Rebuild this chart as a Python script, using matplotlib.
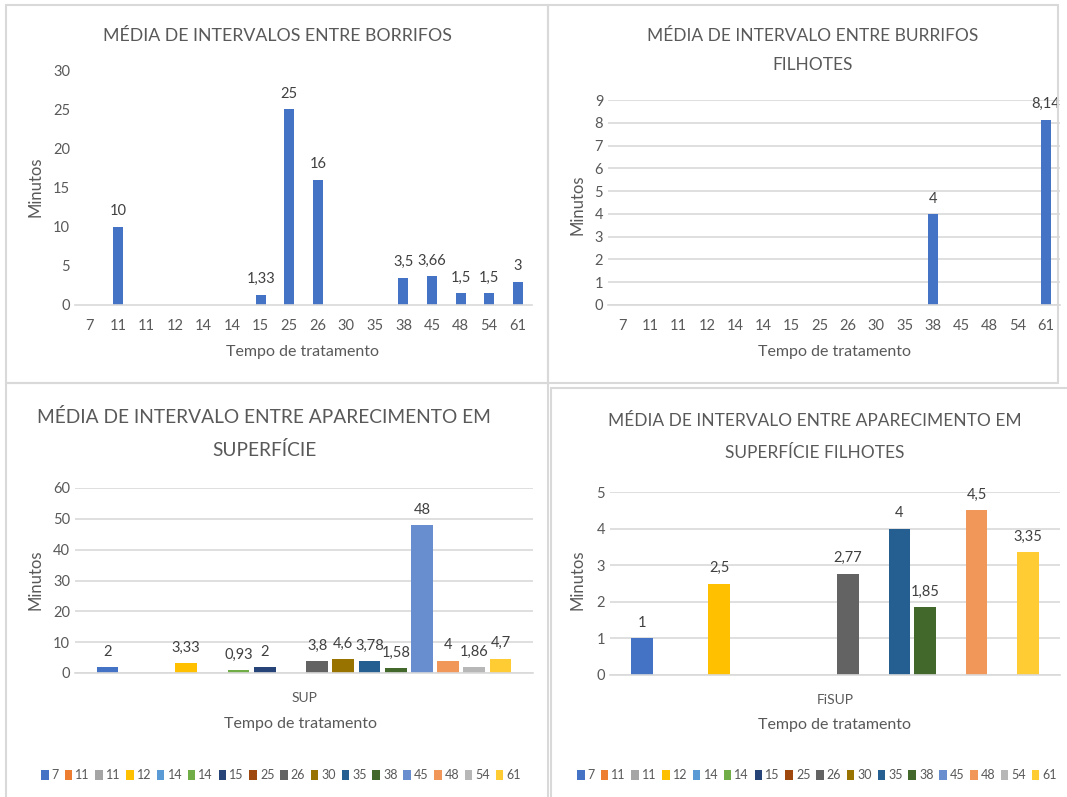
import matplotlib
matplotlib.use("Agg")
import matplotlib.pyplot as plt
import matplotlib.patches as mpatches

W, H = 1067, 797

# --- data ---
tempos = ["7", "11", "11", "12", "14", "14", "15", "25", "26", "30", "35", "38", "45", "48", "54", "61"]
borrifos = [0, 10, 0, 0, 0, 0, 1.33, 25, 16, 0, 0, 3.5, 3.66, 1.5, 1.5, 3]
borrifos_filhotes = [0, 0, 0, 0, 0, 0, 0, 0, 0, 0, 0, 4, 0, 0, 0, 8.14]
superficie = [2, 0, 0, 3.33, 0, 0.93, 2, 0, 3.8, 4.6, 3.78, 1.58, 48, 4, 1.86, 4.7]
superficie_filhotes = [1, 0, 0, 2.5, 0, 0, 0, 0, 2.77, 0, 4, 1.85, 0, 4.5, 0, 3.35]
serie_cores = ["#4472C4", "#ED7D31", "#A5A5A5", "#FFC000", "#5B9BD5", "#70AD47",
               "#264478", "#9E480E", "#636363", "#997300", "#255E91", "#43682B",
               "#698ED0", "#F1975A", "#B7B7B7", "#FFCD33"]

plt.rcParams["font.family"] = ["Lato", "DejaVu Sans"]
TXT = "#595959"
GRID = "#D9D9D9"


def fmt(v):
    return f"{v:g}".replace(".", ",")


def px_axes(fig, x0, y0, x1, y1):
    return fig.add_axes([x0 / W, 1 - y1 / H, (x1 - x0) / W, (y1 - y0) / H])


def style(ax, ymax, step, grid=True):
    ax.set_ylim(0, ymax)
    ax.set_yticks(range(0, ymax + 1, step))
    for s in ["top", "right", "left"]:
        ax.spines[s].set_visible(False)
    ax.spines["bottom"].set_color(GRID)
    ax.spines["bottom"].set_linewidth(1.2)
    ax.tick_params(axis="both", length=0, colors=TXT, labelsize=10.5)
    if grid:
        ax.yaxis.grid(True, color=GRID, linewidth=1.2)
        ax.set_axisbelow(True)


def ftext(fig, x, y, s, **kw):
    kw.setdefault("color", TXT)
    kw.setdefault("ha", "center")
    kw.setdefault("va", "center")
    fig.text(x / W, 1 - y / H, s, **kw)


def labels(ax, vals):
    for x, v in enumerate(vals):
        if v:
            ax.annotate(fmt(v), (x, v), xytext=(0, 6), textcoords="offset points",
                        ha="center", va="bottom", fontsize=10.5, color="#404040")


fig = plt.figure(figsize=(W / 100, H / 100), dpi=100)

# panel borders
for x0, y0, x1, y1 in [(6, 5, 548, 383), (548, 5, 1058, 383),
                       (6, 383, 548, 800), (551, 388, 1070, 800)]:
    fig.patches.append(mpatches.Rectangle((x0 / W, 1 - y1 / H), (x1 - x0) / W, (y1 - y0) / H,
                                          transform=fig.transFigure, fill=False,
                                          edgecolor=GRID, linewidth=1.5))

xs = list(range(len(tempos)))

# --- top left ---
ax1 = px_axes(fig, 75, 70, 532, 305)
ax1.bar(xs, borrifos, width=0.35, color="#4472C4")
ax1.set_xlim(-0.5, 15.5)
ax1.set_xticks(xs)
ax1.set_xticklabels(tempos)
style(ax1, 30, 5, grid=False)
ax1.tick_params(axis="x", pad=10)
labels(ax1, borrifos)
ftext(fig, 277, 36, "MÉDIA DE INTERVALOS ENTRE BORRIFOS", fontsize=12.8)
ftext(fig, 35, 187, "Minutos", fontsize=12, rotation=90)
ftext(fig, 303, 352, "Tempo de tratamento", fontsize=11.5)

# --- top right ---
ax2 = px_axes(fig, 608, 100, 1060, 305)
ax2.bar(xs, borrifos_filhotes, width=0.35, color="#4472C4")
ax2.set_xlim(-0.5, 15.5)
ax2.set_xticks(xs)
ax2.set_xticklabels(tempos)
style(ax2, 9, 1)
ax2.tick_params(axis="x", pad=10)
labels(ax2, borrifos_filhotes)
ftext(fig, 813, 36, "MÉDIA DE INTERVALO ENTRE BURRIFOS", fontsize=12.5)
ftext(fig, 813, 65, "FILHOTES", fontsize=12.5)
ftext(fig, 577, 205, "Minutos", fontsize=12, rotation=90)
ftext(fig, 835, 352, "Tempo de tratamento", fontsize=11.5)


def clustered(ax, vals, ymax, step, cat, legend_xy):
    for i, (lab, v, c) in enumerate(zip(tempos, vals, serie_cores)):
        ax.bar(i, v, width=0.83, color=c, label=lab)
    labels(ax, vals)
    ax.set_xlim(-1.24, 16.24)
    ax.set_xticks([7.5])
    ax.set_xticklabels([cat])
    style(ax, ymax, step)
    ax.tick_params(axis="x", pad=14, labelsize=10)
    ax.legend(loc="center", bbox_to_anchor=legend_xy, ncol=16, frameon=False,
              fontsize=9, handlelength=0.6, handleheight=0.9, handletextpad=0.25,
              columnspacing=0.45, labelcolor=TXT)


# --- bottom left ---
ax3 = px_axes(fig, 75, 488, 533, 673)
clustered(ax3, superficie, 60, 10, "SUP",
          ((281 - 75) / 458, 1 - (775 - 488) / 185))
ftext(fig, 264, 417, "MÉDIA DE INTERVALO ENTRE APARECIMENTO EM", fontsize=13.8)
ftext(fig, 264, 450, "SUPERFÍCIE", fontsize=13.8)
ftext(fig, 35, 580, "Minutos", fontsize=12, rotation=90)
ftext(fig, 300, 724, "Tempo de tratamento", fontsize=11.5)

# --- bottom right ---
ax4 = px_axes(fig, 610, 492, 1060, 675)
clustered(ax4, superficie_filhotes, 5, 1, "FiSUP",
          ((817 - 610) / 450, 1 - (775 - 492) / 183))
ftext(fig, 815, 421, "MÉDIA DE INTERVALO ENTRE APARECIMENTO EM", fontsize=12.5)
ftext(fig, 815, 453, "SUPERFÍCIE FILHOTES", fontsize=12.5)
ftext(fig, 578, 580, "Minutos", fontsize=12, rotation=90)
ftext(fig, 835, 725, "Tempo de tratamento", fontsize=11.5)

fig.savefig("out.png", dpi=100, facecolor="white")
